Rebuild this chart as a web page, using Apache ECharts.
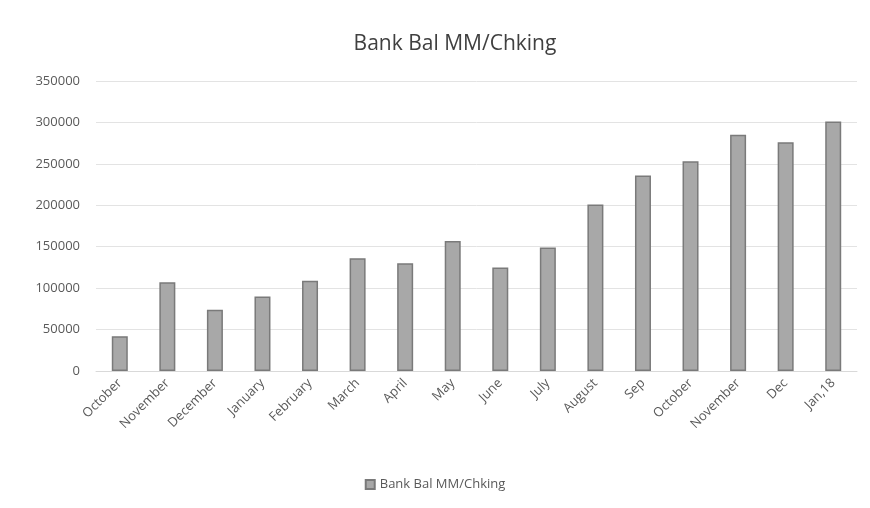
<!DOCTYPE html>
<html>
<head>
<meta charset="utf-8">
<script src="https://cdn.jsdelivr.net/npm/echarts@6/dist/echarts.min.js"></script>
<style>
  html, body { margin: 0; padding: 0; background: #fff; }
  #chart { width: 870px; height: 508px; }
</style>
</head>
<body>
<div id="chart"></div>
<script>
var categories = ['October', 'November', 'December', 'January', 'February', 'March', 'April', 'May',
  'June', 'July', 'August', 'Sep', 'October', 'November', 'Dec', 'Jan,18'];
var balances = [42000, 107000, 74000, 90000, 109000, 136000, 130000, 157000,
  125000, 149000, 201000, 236000, 253000, 285000, 276000, 301000];
var seriesName = 'Bank Bal MM/Chking';

var chart = echarts.init(document.getElementById('chart'));
var font = '"Open Sans", "Noto Sans", sans-serif';

var option = {
  animation: false,
  title: {
    text: seriesName,
    left: 450,
    textAlign: 'center',
    top: 29,
    textStyle: { fontFamily: font, fontSize: 21, fontWeight: 'normal', color: '#404040' }
  },
  legend: {
    bottom: 12,
    left: 'center',
    icon: 'rect',
    itemWidth: 9,
    itemHeight: 9,
    itemGap: 4,
    textStyle: { fontFamily: font, fontSize: 13, color: '#595959' },
    data: [seriesName]
  },
  grid: { left: 96, right: 13, top: 81, bottom: 137 },
  xAxis: {
    type: 'category',
    data: categories,
    axisLine: { lineStyle: { color: '#d9d9d9' } },
    axisTick: { show: false },
    axisLabel: { rotate: 45, interval: 0, fontFamily: font, fontSize: 13, color: '#595959', margin: 10 }
  },
  yAxis: {
    type: 'value',
    min: 0,
    max: 350000,
    interval: 50000,
    axisLine: { show: false },
    axisTick: { show: false },
    axisLabel: {
      fontFamily: font, fontSize: 13, color: '#595959', margin: 16,
      formatter: function (v) { return String(v); }
    },
    splitLine: { lineStyle: { color: '#e3e3e3' } }
  },
  series: [{
    name: seriesName,
    type: 'bar',
    data: balances,
    barWidth: 16,
    itemStyle: { color: '#a8a8a8', borderColor: '#7a7a7a', borderWidth: 1.5 }
  }]
};
chart.setOption(option);
</script>
</body>
</html>
